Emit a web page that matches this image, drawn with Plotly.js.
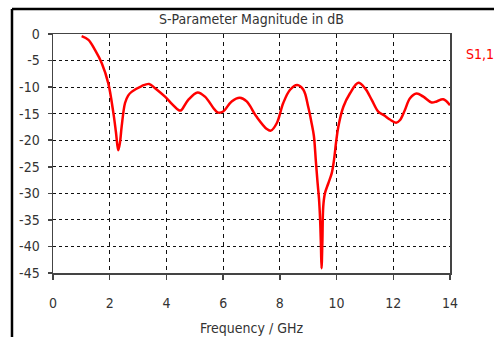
<!DOCTYPE html>
<html>
<head>
<meta charset="utf-8">
<script src="https://cdn.plot.ly/plotly-3.0.1.min.js"></script>
<style>
html,body{margin:0;padding:0;background:#fff;}
#chart{width:494px;height:337px;}
</style>
</head>
<body>
<div id="chart"></div>
<script>
var freqGHz = [1.01,1.25,1.48,1.72,1.95,2.13,2.22,2.3,2.36,2.42,2.54,2.65,2.77,3.13,3.39,3.6,3.95,4.2,4.42,4.51,4.77,5.1,5.36,5.71,5.83,6.0,6.3,6.59,6.83,7.18,7.54,7.68,7.89,8.12,8.36,8.61,8.83,9.0,9.12,9.2,9.27,9.33,9.38,9.42,9.45,9.47,9.5,9.53,9.59,9.71,9.83,9.91,9.98,10.06,10.24,10.47,10.77,11.0,11.24,11.47,11.7,11.88,12.1,12.24,12.41,12.59,12.82,13.06,13.35,13.53,13.76,14.0];
var s11dB = [-0.4,-1.1,-3.0,-5.5,-9.3,-14.9,-18.5,-21.9,-20.5,-17.5,-13.0,-11.6,-10.9,-9.8,-9.4,-10.2,-11.8,-13.2,-14.3,-14.4,-12.4,-11.0,-11.8,-14.3,-14.8,-14.6,-12.7,-12.0,-12.7,-15.6,-17.9,-18.2,-16.8,-13.0,-10.5,-9.6,-10.5,-13.7,-16.8,-19.2,-24.0,-28.0,-31.0,-35.0,-40.0,-44.1,-39.0,-32.5,-30.0,-28.1,-26.2,-23.7,-20.5,-17.5,-13.7,-11.2,-9.2,-10.2,-12.4,-14.6,-15.4,-16.1,-16.7,-16.2,-14.3,-12.1,-11.2,-11.8,-12.9,-12.7,-12.3,-13.4];
var xTickVals = [0,2,4,6,8,10,12,14];
var xTickText = ["0","2","4","6","8","10","12","14"];
var yTickVals = [0,-5,-10,-15,-20,-25,-30,-35,-40,-45];
var yTickText = ["0","-5","-10","-15","-20","-25","-30","-35","-40","-45"];
var chartTitle = "S-Parameter Magnitude in dB";
var xTitle = "Frequency / GHz";
var seriesName = "S1,1";

var FONT = "'DejaVu Sans Condensed', 'Liberation Sans', sans-serif";

var trace = {
  x: freqGHz, y: s11dB, type: 'scatter', mode: 'lines',
  line: {color: '#ff0000', width: 2.5, shape: 'spline', smoothing: 1},
  hoverinfo: 'skip'
};

var layout = {
  width: 494, height: 337,
  margin: {l: 53, r: 44, t: 34, b: 64.3, pad: 0},
  paper_bgcolor: '#ffffff', plot_bgcolor: '#ffffff',
  showlegend: false,
  font: {family: FONT, size: 14, color: '#222'},
  title: {text: chartTitle, font: {family: FONT, size: 14, color: '#333'},
          xref: 'paper', x: 0.5, xanchor: 'center', yref: 'container', y: 0.944, yanchor: 'middle'},
  xaxis: {
    range: [0, 14], tickvals: xTickVals, ticktext: xTickText,
    showgrid: true, gridcolor: '#111', gridwidth: 1, griddash: '4px,4px',
    showline: true, linecolor: '#444', linewidth: 1.5, mirror: true,
    ticks: 'outside', ticklen: 5, tickcolor: '#444', tickwidth: 1.5,
    ticklabelstandoff: 12,
    zeroline: false, tickfont: {family: FONT, size: 14, color: '#333'}
  },
  yaxis: {
    range: [-45, 0], tickvals: yTickVals, ticktext: yTickText,
    showgrid: true, gridcolor: '#111', gridwidth: 1, griddash: '3px,3px',
    showline: true, linecolor: '#444', linewidth: 1.5, mirror: true,
    ticks: 'outside', ticklen: 4, tickcolor: '#444', tickwidth: 1.5,
    ticklabelstandoff: 5,
    zeroline: false, tickfont: {family: FONT, size: 14, color: '#333'}
  },
  annotations: [
    {text: xTitle, xref: 'paper', yref: 'paper', x: 0.5, y: -0.2317, xanchor: 'center', yanchor: 'middle',
     showarrow: false, font: {family: FONT, size: 14, color: '#333'}},
    {text: seriesName, xref: 'paper', yref: 'paper', x: 1.0353, y: 0.9162, xanchor: 'left', yanchor: 'middle',
     showarrow: false, font: {family: FONT, size: 14, color: '#ff0000'}}
  ],
  shapes: [
    {type: 'line', xref: 'paper', yref: 'paper', x0: -0.1033, x1: -0.1033, y0: -0.4, y1: 1.1047,
     line: {color: '#000', width: 2.5}},
    {type: 'line', xref: 'paper', yref: 'paper', x0: -0.1033, x1: 1.2, y0: 1.1047, y1: 1.1047,
     line: {color: '#000', width: 2.5}}
  ]
};

Plotly.newPlot('chart', [trace], layout, {displayModeBar: false, staticPlot: true});
</script>
</body>
</html>
